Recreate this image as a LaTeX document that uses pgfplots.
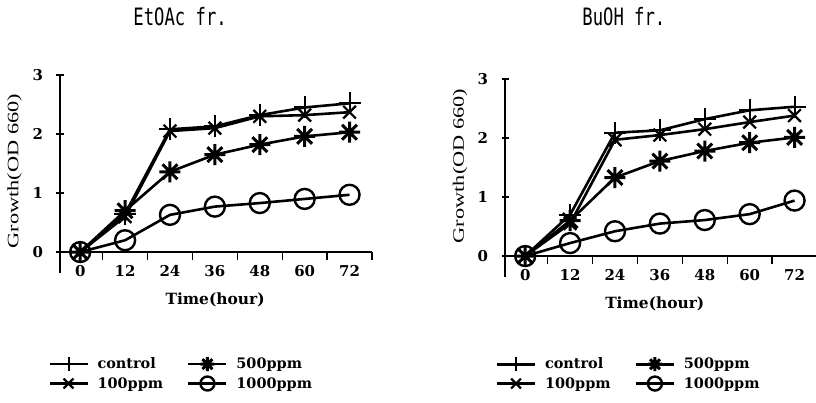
\documentclass[border=0pt]{standalone}
\usepackage{fontspec}
\setmainfont{DejaVu Serif}
\newfontfamily\titlefont[FakeStretch=0.72]{DejaVu Sans Mono}
\newfontfamily\ylabfont[FakeStretch=1.4]{Liberation Serif}
\usepackage{pgfplots}
\pgfplotsset{compat=1.18}

% eight-armed asterisk for the 500ppm series
\pgfdeclareplotmark{ast8}{%
  \foreach \a/\b in {0/180,45/225,90/270,135/315}{%
    \pgfpathmoveto{\pgfpointpolar{\a}{\pgfplotmarksize}}%
    \pgfpathlineto{\pgfpointpolar{\b}{\pgfplotmarksize}}%
  }%
  \pgfusepathqstroke}

\pgfplotsset{
  growth/.style={
    scale only axis, width=312bp, height=197.7bp,
    xmin=-0.45, xmax=6.5, ymin=-0.35, ymax=3,
    axis x line=middle, axis y line=left,
    axis line style={-, line width=1.3bp},
    hide obscured x ticks=false, hide obscured y ticks=false,
    tick align=outside,
    major tick length=8bp,
    tick style={black, line width=1.3bp},
    % tick marks sit between the categories
    xtick={0.5,1.5,...,6.5}, xticklabels={},
    extra x ticks={0,...,6}, extra x tick labels={0,12,24,36,48,60,72},
    extra x tick style={major tick length=0pt},
    ytick=\empty,
    extra y ticks={0,1,2,3},
    extra y tick style={tick align=center, major tick length=7bp},
    /pgf/number format/assume math mode=true,
    ticklabel style={font=\bfseries\fontsize{15}{15}\selectfont},
    yticklabel style={xshift=-10bp},
    xticklabel style={yshift=-10bp},
    xlabel={Time(hour)},
    xlabel style={font=\bfseries\fontsize{15.5}{15.5}\selectfont, at={(rel axis cs:0.497,-0.135)}, anchor=center},
    ylabel={Growth(OD 660)},
    ylabel style={font=\ylabfont\fontsize{16}{16}\selectfont, anchor=center},
    title style={font=\titlefont\fontsize{24}{24}\selectfont, anchor=center},
    legend columns=2,
    legend cell align=left,
    legend style={draw=none, fill=none, anchor=north west,
      font=\bfseries\fontsize{14.5}{14.5}\selectfont, row sep=3bp,
      /tikz/every even column/.append style={column sep=22bp}},
    legend image code/.code={%
      \draw[#1, mark size=7bp, mark repeat=2, mark phase=2]
        plot coordinates {(0bp,0bp) (19bp,0bp) (38bp,0bp)};
      \path[draw=none] (0bp,0bp) -- (46bp,0bp);},
    every axis plot/.append style={black, line width=2.6bp},
  },
  ctrl/.style={mark=+, mark size=11bp, mark options={line width=2bp}},
  p100/.style={mark=x, mark size=9bp, mark options={line width=2.2bp}},
  p500/.style={mark=ast8, mark size=10.5bp, mark options={line width=3bp}},
  p1000/.style={mark=o, mark size=10bp, mark options={line width=2.4bp}},
}

\begin{document}
\begin{tikzpicture}
\useasboundingbox (0,0) rectangle (816bp,-403bp);

\begin{axis}[growth, at={(60bp,-272.7bp)}, anchor=south west,
  title={EtOAc fr.}, title style={at={(0.385,1.265)}},
  ylabel style={at={(rel axis cs:-0.146,0.514)}},
  legend style={at={(-0.048,-0.41)}}]
\addplot[ctrl] coordinates {(0,0) (1,0.65) (2,2.08) (3,2.13) (4,2.32) (5,2.45) (6,2.52)};
\addplot[p500] coordinates {(0,0) (1,0.70) (2,1.36) (3,1.65) (4,1.82) (5,1.96) (6,2.03)};
\addplot[p100] coordinates {(0,0) (1,0.60) (2,2.05) (3,2.10) (4,2.30) (5,2.32) (6,2.37)};
\addplot[p1000] coordinates {(0,0) (1,0.20) (2,0.63) (3,0.77) (4,0.83) (5,0.90) (6,0.97)};
\legend{control, 500ppm, 100ppm, 1000ppm}
\end{axis}

\begin{axis}[growth, at={(505bp,-276.7bp)}, anchor=south west,
  title={BuOH fr.}, title style={at={(0.381,1.285)}},
  ylabel style={at={(rel axis cs:-0.144,0.56)}},
  xlabel style={at={(rel axis cs:0.48,-0.135)}},
  legend style={at={(-0.04,-0.39)}}]
\addplot[ctrl] coordinates {(0,0) (1,0.70) (2,2.09) (3,2.13) (4,2.32) (5,2.47) (6,2.53)};
\addplot[p500] coordinates {(0,0) (1,0.60) (2,1.33) (3,1.61) (4,1.78) (5,1.92) (6,2.01)};
\addplot[p100] coordinates {(0,0) (1,0.55) (2,1.97) (3,2.05) (4,2.15) (5,2.27) (6,2.38)};
\addplot[p1000] coordinates {(0,0) (1,0.22) (2,0.42) (3,0.55) (4,0.61) (5,0.71) (6,0.94)};
\legend{control, 500ppm, 100ppm, 1000ppm}
\end{axis}
\end{tikzpicture}
\end{document}
